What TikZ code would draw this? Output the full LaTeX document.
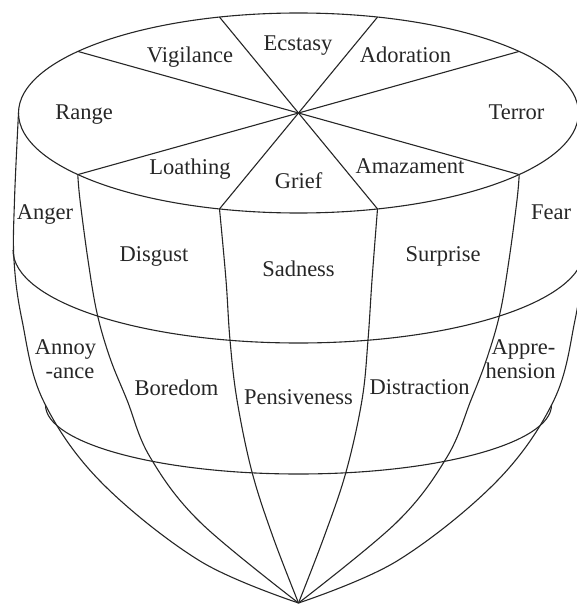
\documentclass[tikz,border=0pt]{standalone}
\usepackage{fontspec}
\setmainfont{Liberation Serif}
\begin{document}
\begin{tikzpicture}[x=1pt,y=-1pt,
  ln/.style={line width=1.1pt,draw=black!85},
  lbl/.style={anchor=base,inner sep=0pt,text=black!85,font=\fontsize{22.5}{26}\selectfont}]
\useasboundingbox (0,0) rectangle (577,604);
\clip (0,0) rectangle (577,604);
% top ellipse
\coordinate (C) at (298.5,113);
\draw[ln] (C) ellipse [x radius=280pt, y radius=100pt];
% spoke end points
\coordinate (a38) at (519.2,51.4);
\coordinate (a218) at (77.8,174.6);
\coordinate (a74) at (377.5,17.1);
\coordinate (a254) at (219.5,208.9);
\coordinate (a106) at (219.5,17.1);
\coordinate (a286) at (377.5,208.9);
\coordinate (a142) at (77.8,51.4);
\coordinate (a322) at (519.2,174.6);
\draw[ln] (a38) -- (a218);
\draw[ln] (a74) -- (a254);
\draw[ln] (a106) -- (a286);
\draw[ln] (a142) -- (a322);
% bands (front halves)
\coordinate (bu) at (13,250);
\coordinate (bl) at (45.5,405);
\draw[ln] (bu) arc [start angle=180, end angle=360, x radius=285.5pt, y radius=93pt];
\draw[ln] (bl) arc [start angle=180, end angle=360, x radius=253pt, y radius=69pt];
% meridians
\coordinate (tip) at (298.5,603);
\draw[ln] plot[smooth,tension=0.6] coordinates {(18.5,113) (14.5,200) (14,260) (22,320) (43,400) (100,481) (200,561) (298.5,603)};
\draw[ln] plot[smooth,tension=0.6] coordinates {(578.5,113) (582.5,200) (583,260) (575,320) (554,400) (497,481) (397,561) (298.5,603)};
\draw[ln] plot[smooth,tension=0.6] coordinates {(77.8,174.6) (80,200) (88,260) (97,313) (110,358) (127,400) (150,457) (200,522) (298.5,603)};
\draw[ln] plot[smooth,tension=0.6] coordinates {(519.2,174.6) (517,200) (509,260) (500,313) (487,358) (471,400) (447,457) (397,522) (298.5,603)};
\draw[ln] plot[smooth,tension=0.6] coordinates {(219.5,208.9) (226,280) (230,340) (237,400) (252,472) (273,537) (298.5,603)};
\draw[ln] plot[smooth,tension=0.6] coordinates {(377.5,208.9) (372,280) (368,340) (362,400) (346,472) (324,537) (298.5,603)};
% labels
\node[lbl] (ecstasy) at (298,51) {Ecstasy};
\node[lbl] (vigilance) at (190,63) {Vigilance};
\node[lbl] (adoration) at (405.5,63) {Adoration};
\node[lbl] (range) at (84,120) {Range};
\node[lbl] (terror) at (516.5,120) {Terror};
\node[lbl] (loathing) at (190,174) {Loathing};
\node[lbl] (grief) at (298.5,188) {Grief};
\node[lbl] (amazament) at (410,173) {Amazament};
\node[lbl] (anger) at (45,219) {Anger};
\node[lbl] (fear) at (551,219) {Fear};
\node[lbl] (disgust) at (154,261) {Disgust};
\node[lbl] (sadness) at (298.5,276) {Sadness};
\node[lbl] (surprise) at (443,261) {Surprise};
\node[lbl] (annoy) at (65.5,354) {Annoy};
\node[lbl] (ance) at (70,378) {-ance};
\node[lbl] (appre) at (523.5,354) {Appre-};
\node[lbl] (hension) at (520.5,378) {hension};
\node[lbl] (boredom) at (176.5,395) {Boredom};
\node[lbl] (pensiveness) at (298.5,404) {Pensiveness};
\node[lbl] (distraction) at (419.5,394) {Distraction};
\end{tikzpicture}
\end{document}
